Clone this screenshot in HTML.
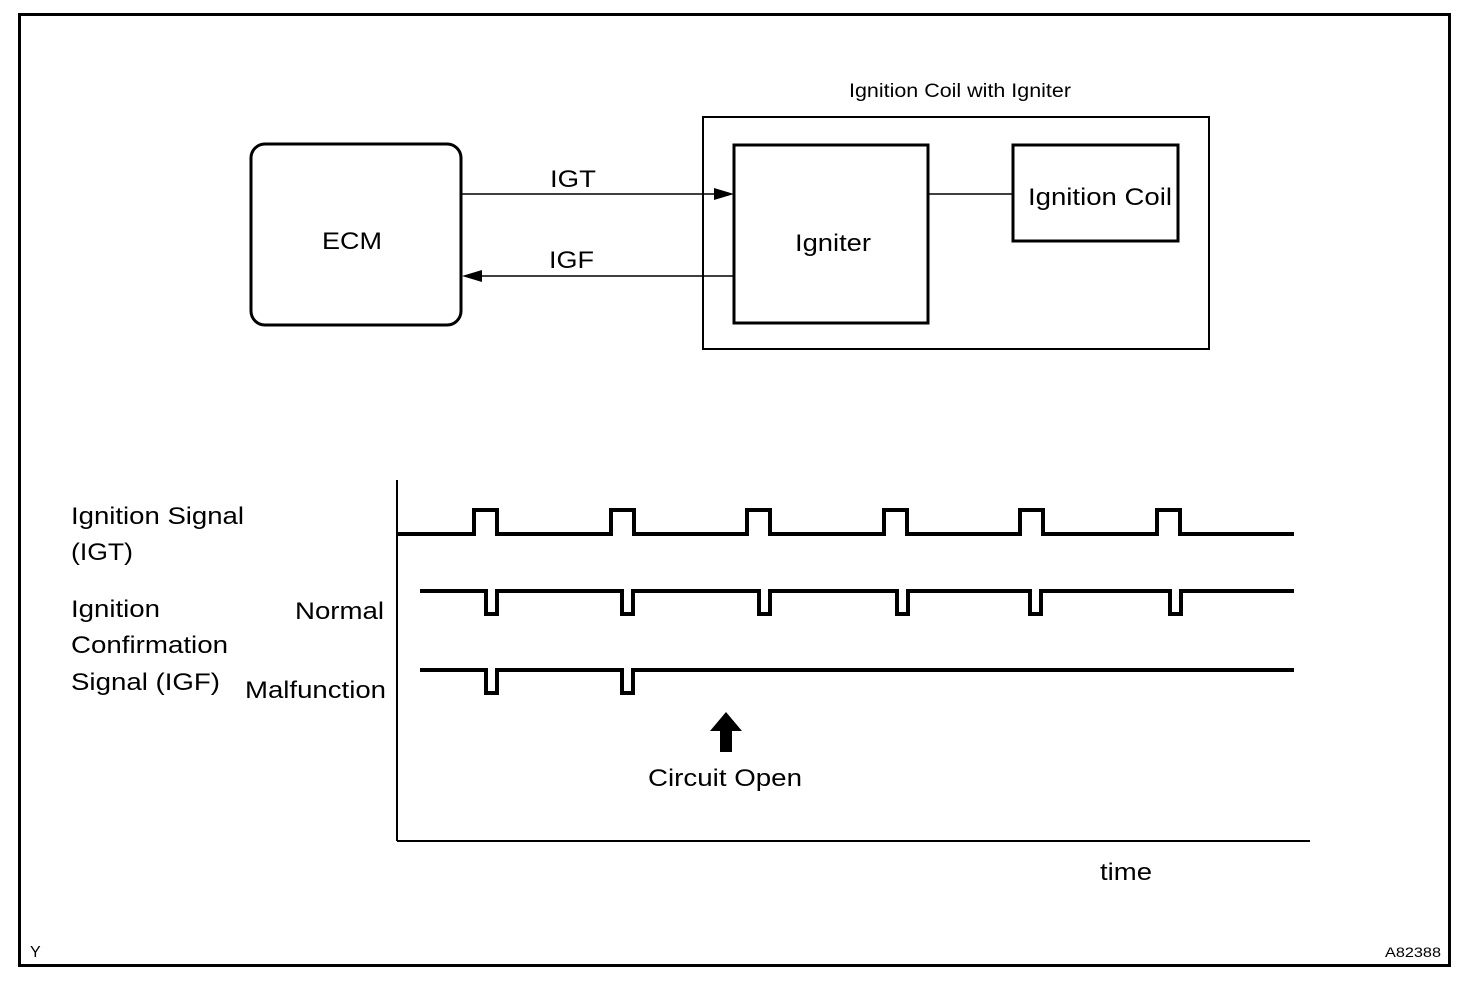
<!DOCTYPE html>
<html><head><meta charset="utf-8"><style>
html,body{margin:0;padding:0;background:#fff;}
text{font-family:"Liberation Sans",Arial,sans-serif;fill:#000;}
</style></head><body>
<svg width="1472" height="984" viewBox="0 0 1472 984" xmlns="http://www.w3.org/2000/svg">
<rect x="0" y="0" width="1472" height="984" fill="#fff"/>
<rect x="19.5" y="14.5" width="1430" height="951" fill="none" stroke="#000" stroke-width="3"/>
<rect x="251" y="144" width="210" height="181" rx="14" fill="none" stroke="#000" stroke-width="3"/>
<text x="322" y="249" font-size="24" textLength="60" lengthAdjust="spacingAndGlyphs">ECM</text>
<rect x="703" y="117" width="506" height="232" fill="none" stroke="#000" stroke-width="2"/>
<text x="849" y="97" font-size="19" textLength="222" lengthAdjust="spacingAndGlyphs">Ignition Coil with Igniter</text>
<rect x="734" y="145" width="194" height="178" fill="none" stroke="#000" stroke-width="3"/>
<text x="795" y="251" font-size="24" textLength="76" lengthAdjust="spacingAndGlyphs">Igniter</text>
<rect x="1013" y="145" width="165" height="96" fill="none" stroke="#000" stroke-width="3"/>
<text x="1028" y="205" font-size="24" textLength="144" lengthAdjust="spacingAndGlyphs">Ignition Coil</text>
<line x1="928" y1="194" x2="1013" y2="194" stroke="#000" stroke-width="1.5"/>
<line x1="462" y1="194" x2="722" y2="194" stroke="#000" stroke-width="1.5"/>
<polygon points="734,194 714,188 714,200" fill="#000"/>
<text x="550" y="187" font-size="24" textLength="46" lengthAdjust="spacingAndGlyphs">IGT</text>
<line x1="474" y1="276" x2="734" y2="276" stroke="#000" stroke-width="1.5"/>
<polygon points="462,276 482,270 482,282" fill="#000"/>
<text x="549" y="268" font-size="24" textLength="45" lengthAdjust="spacingAndGlyphs">IGF</text>
<line x1="397" y1="480" x2="397" y2="841" stroke="#000" stroke-width="2"/>
<line x1="397" y1="841" x2="1310" y2="841" stroke="#000" stroke-width="2"/>
<polyline fill="none" stroke="#000" stroke-width="4" points="398,534 474,534 474,510 497,510 497,534 611,534 611,510 634,510 634,534 747,534 747,510 770,510 770,534 884,534 884,510 907,510 907,534 1020,534 1020,510 1043,510 1043,534 1157,534 1157,510 1180,510 1180,534 1294,534"/>
<polyline fill="none" stroke="#000" stroke-width="4" points="420,591 486,591 486,614 497,614 497,591 622,591 622,614 633,614 633,591 759,591 759,614 770,614 770,591 897,591 897,614 908,614 908,591 1030,591 1030,614 1041,614 1041,591 1170,591 1170,614 1181,614 1181,591 1294,591"/>
<polyline fill="none" stroke="#000" stroke-width="4" points="420,670 486,670 486,693 497,693 497,670 622,670 622,693 633,693 633,670 1294,670"/>
<text x="71" y="524" font-size="24" textLength="173" lengthAdjust="spacingAndGlyphs">Ignition Signal</text>
<text x="71" y="560" font-size="24" textLength="62" lengthAdjust="spacingAndGlyphs">(IGT)</text>
<text x="71" y="617" font-size="24" textLength="89" lengthAdjust="spacingAndGlyphs">Ignition</text>
<text x="71" y="653" font-size="24" textLength="157" lengthAdjust="spacingAndGlyphs">Confirmation</text>
<text x="71" y="690" font-size="24" textLength="149" lengthAdjust="spacingAndGlyphs">Signal (IGF)</text>
<text x="295" y="619" font-size="24" textLength="89" lengthAdjust="spacingAndGlyphs">Normal</text>
<text x="245" y="698" font-size="24" textLength="141" lengthAdjust="spacingAndGlyphs">Malfunction</text>
<polygon points="726,712 710,731 720,731 720,752 732,752 732,731 742,731" fill="#000"/>
<text x="648" y="786" font-size="24" textLength="154" lengthAdjust="spacingAndGlyphs">Circuit Open</text>
<text x="1100" y="880" font-size="24" textLength="52" lengthAdjust="spacingAndGlyphs">time</text>
<text x="30" y="957" font-size="16">Y</text>
<text x="1385" y="957" font-size="14" textLength="56" lengthAdjust="spacingAndGlyphs">A82388</text>
</svg>
</body></html>
